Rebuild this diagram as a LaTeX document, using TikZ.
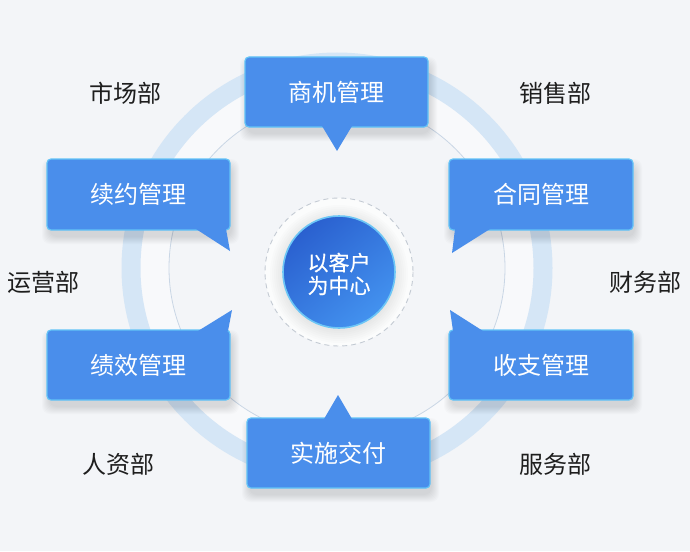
\documentclass[tikz,border=0pt]{standalone}
\usepackage{fontspec}
\setmainfont{Noto Sans CJK SC}
\newfontfamily\cjkheavy[FakeBold=0.5]{Noto Sans CJK SC}
\definecolor{bg}{HTML}{F3F5F8}
\definecolor{ringc}{HTML}{D5E6F6}
\definecolor{thinc}{HTML}{C9D6E5}
\definecolor{boxblue}{HTML}{4A8EEB}
\definecolor{boxedge}{HTML}{62C3F7}
\definecolor{deptc}{HTML}{1E1E1E}
\definecolor{cdark}{HTML}{2A60CF}
\definecolor{clight}{HTML}{4392EF}
\definecolor{cedge}{HTML}{6CC6F6}
\definecolor{dashc}{HTML}{C3CAD3}
\newcommand{\mysoftsh}[4]{%
  \foreach \k in {0,...,7}{%
    \fill[black, opacity=0.016, rounded corners=8pt]
      ({#1-#3-\k+2},{#2-#4-\k+7}) rectangle ({#1+#3+\k+2},{#2+#4+\k+7});
  }}
\begin{document}
\begin{tikzpicture}[x=1pt,y=-1pt,
  box/.style={draw=boxedge, line width=1.2pt, fill=boxblue, rounded corners=4pt,
    minimum width=183pt, minimum height=70pt, text=white,
    font=\fontsize{24}{28}\selectfont, inner sep=0pt},
  dept/.style={text=deptc, font=\fontsize{24}{28}\selectfont, inner sep=0pt},
  tailc/.style={fill=boxblue, draw=none}]
\useasboundingbox (0,0) rectangle (690,551);
\fill[bg] (0,0) rectangle (690,551);
% rings
\fill[white, opacity=0.45, even odd rule] (337,268) circle (200) (337,268) circle (168);
\draw[ringc, line width=19pt] (337,268) circle (206);
\draw[thinc, line width=0.8pt] (337,268) circle (168);
% centre halo
\fill[white, opacity=0.7] (339,272) circle (74);
\foreach \r in {57,59,...,69} { \fill[black, opacity=0.012] (339,274) circle (\r); }
\draw[dashc, line width=0.9pt, dash pattern=on 5pt off 4pt] (339,272) circle (74);
% shadows
\mysoftsh{336.5}{92}{91.5}{35}
\mysoftsh{541}{194.5}{92}{35.5}
\mysoftsh{138.5}{194.5}{91.5}{35.5}
\mysoftsh{138.5}{365}{91.5}{35}
\mysoftsh{541}{365}{92}{35}
\mysoftsh{338.5}{453}{91.5}{35}
% boxes
\node[box, minimum width=183pt, minimum height=70pt] (sj) at (336.5,92) {商机管理};
\node[box, minimum width=184pt, minimum height=71pt] (ht) at (541,194.5) {合同管理};
\node[box, minimum width=183pt, minimum height=71pt] (xy) at (138.5,194.5) {续约管理};
\node[box, minimum width=183pt, minimum height=70pt] (jx) at (138.5,365) {绩效管理};
\node[box, minimum width=184pt, minimum height=70pt] (sz) at (541,365) {收支管理};
\node[box, minimum width=183pt, minimum height=70pt] (ss) at (338.5,453) {实施交付};
% tails
\fill[tailc] (322,126) -- (337,151) -- (352,126) -- cycle;
\fill[tailc] (455,229) -- (452,253) -- (490,229) -- cycle;
\fill[tailc] (196,229) -- (230,251) -- (226,229) -- cycle;
\fill[tailc] (198,331) -- (232,310) -- (228,331) -- cycle;
\fill[tailc] (453,331) -- (450,310) -- (483,331) -- cycle;
\fill[tailc] (324,419) -- (338,395) -- (352,419) -- cycle;
% centre
\node[circle, minimum size=112pt, inner sep=0pt, draw=cedge, line width=1.6pt,
  top color=cdark, bottom color=clight, shading angle=40] (kh) at (339,272) {};
\node[text=white, align=center, inner sep=0pt,
  font=\cjkheavy\fontsize{21}{23}\selectfont] (khtext) at (339,274) {以客户\\为中心};
% departments
\node[dept] (scb) at (125,93) {市场部};
\node[dept] (xsb) at (555,93) {销售部};
\node[dept] (yyb) at (43,282) {运营部};
\node[dept] (cwb) at (645,282) {财务部};
\node[dept] (rzb) at (118,464) {人资部};
\node[dept] (fwb) at (555,464) {服务部};
\end{tikzpicture}
\end{document}
